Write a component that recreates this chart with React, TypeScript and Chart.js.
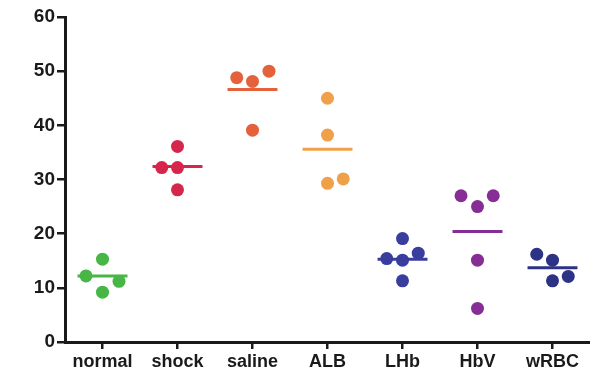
import React, { useEffect, useRef } from "react";
import { Chart, registerables } from "chart.js";

Chart.register(...registerables);

const categories = ["normal", "shock", "saline", "ALB", "LHb", "HbV", "wRBC"];
const colors = ["#47b647", "#d6264b", "#e5613b", "#efa048", "#383d9e", "#862e95", "#2c3284"];

// values per group and their horizontal jitter (in category units)
const normalValues = [15.3, 12.2, 11.2, 9.2];
const normalJitter = [0, -0.22, 0.22, 0];
const shockValues = [36.1, 32.2, 32.2, 28.1];
const shockJitter = [0, -0.21, 0, 0];
const salineValues = [48.8, 48.1, 50.0, 39.1];
const salineJitter = [-0.21, 0, 0.22, 0];
const albValues = [45.0, 38.2, 29.3, 30.1];
const albJitter = [0, 0, 0, 0.21];
const lhbValues = [19.1, 15.4, 15.1, 16.4, 11.3];
const lhbJitter = [0, -0.21, 0, 0.21, 0];
const hbvValues = [27.0, 25.0, 27.0, 15.1, 6.2];
const hbvJitter = [-0.22, 0, 0.21, 0, 0];
const wrbcValues = [16.2, 15.1, 11.3, 12.1];
const wrbcJitter = [-0.21, 0, 0, 0.21];

const meanValues = [12.2, 32.4, 46.6, 35.6, 15.3, 20.4, 13.7];
const meanHalfWidth = 0.333;

const yTicks = [0, 10, 20, 30, 40, 50, 60];

const groups = [
  [normalValues, normalJitter],
  [shockValues, shockJitter],
  [salineValues, salineJitter],
  [albValues, albJitter],
  [lhbValues, lhbJitter],
  [hbvValues, hbvJitter],
  [wrbcValues, wrbcJitter],
];

export default function App() {
  const ref = useRef<HTMLCanvasElement>(null);
  useEffect(() => {
    if (!ref.current) return;
    const datasets: any[] = [];
    groups.forEach(([vals, jit], i) => {
      datasets.push({
        type: "line",
        data: [
          { x: i - meanHalfWidth, y: meanValues[i] },
          { x: i + meanHalfWidth, y: meanValues[i] },
        ],
        showLine: true,
        borderColor: colors[i],
        borderWidth: 3,
        pointRadius: 0,
        fill: false,
      });
      datasets.push({
        type: "scatter",
        data: (vals as number[]).map((v, k) => ({ x: i + (jit as number[])[k], y: v })),
        backgroundColor: colors[i],
        borderColor: colors[i],
        borderWidth: 0,
        pointRadius: 6.5,
      });
    });
    const chart = new Chart(ref.current, {
      type: "scatter",
      data: { datasets },
      options: {
        animation: false,
        responsive: false,
        devicePixelRatio: 1,
        layout: { autoPadding: false, padding: { top: 17, left: 0, right: 0, bottom: 0 } },
        plugins: { legend: { display: false }, tooltip: { enabled: false } },
        scales: {
          x: {
            type: "linear",
            min: -0.5,
            max: 6.5,
            afterBuildTicks: (scale: any) => {
              scale.ticks = categories.map((_, i) => ({ value: i }));
            },
            afterFit: (scale: any) => {
              scale.height = 36;
            },
            ticks: {
              callback: (v: any) => categories[Math.round(Number(v))] ?? "",
              color: "#1a1a1a",
              font: { family: "'Liberation Sans', Arial, sans-serif", size: 18, weight: "bold" },
              padding: 2,
              maxRotation: 0,
              autoSkip: false,
            },
            grid: { drawOnChartArea: false, drawTicks: true, tickLength: 7, color: "#1a1a1a", lineWidth: 2.5 },
            border: { display: true, color: "#1a1a1a", width: 3 },
          },
          y: {
            type: "linear",
            min: 0,
            max: 60,
            afterBuildTicks: (scale: any) => {
              scale.ticks = yTicks.map((v) => ({ value: v }));
            },
            afterFit: (scale: any) => {
              scale.width = 65;
            },
            ticks: {
              color: "#1a1a1a",
              font: { family: "'Liberation Sans', Arial, sans-serif", size: 19, weight: "bold" },
              padding: 2,
            },
            grid: { drawOnChartArea: false, drawTicks: true, tickLength: 8, color: "#1a1a1a", lineWidth: 2.5 },
            border: { display: true, color: "#1a1a1a", width: 3 },
          },
        },
      } as any,
    });
    return () => chart.destroy();
  }, []);
  return (
    <div style={{ position: "fixed", left: 0, top: 0, width: 590, height: 378, background: "#fff" }}>
      <canvas ref={ref} width={590} height={378} />
    </div>
  );
}
